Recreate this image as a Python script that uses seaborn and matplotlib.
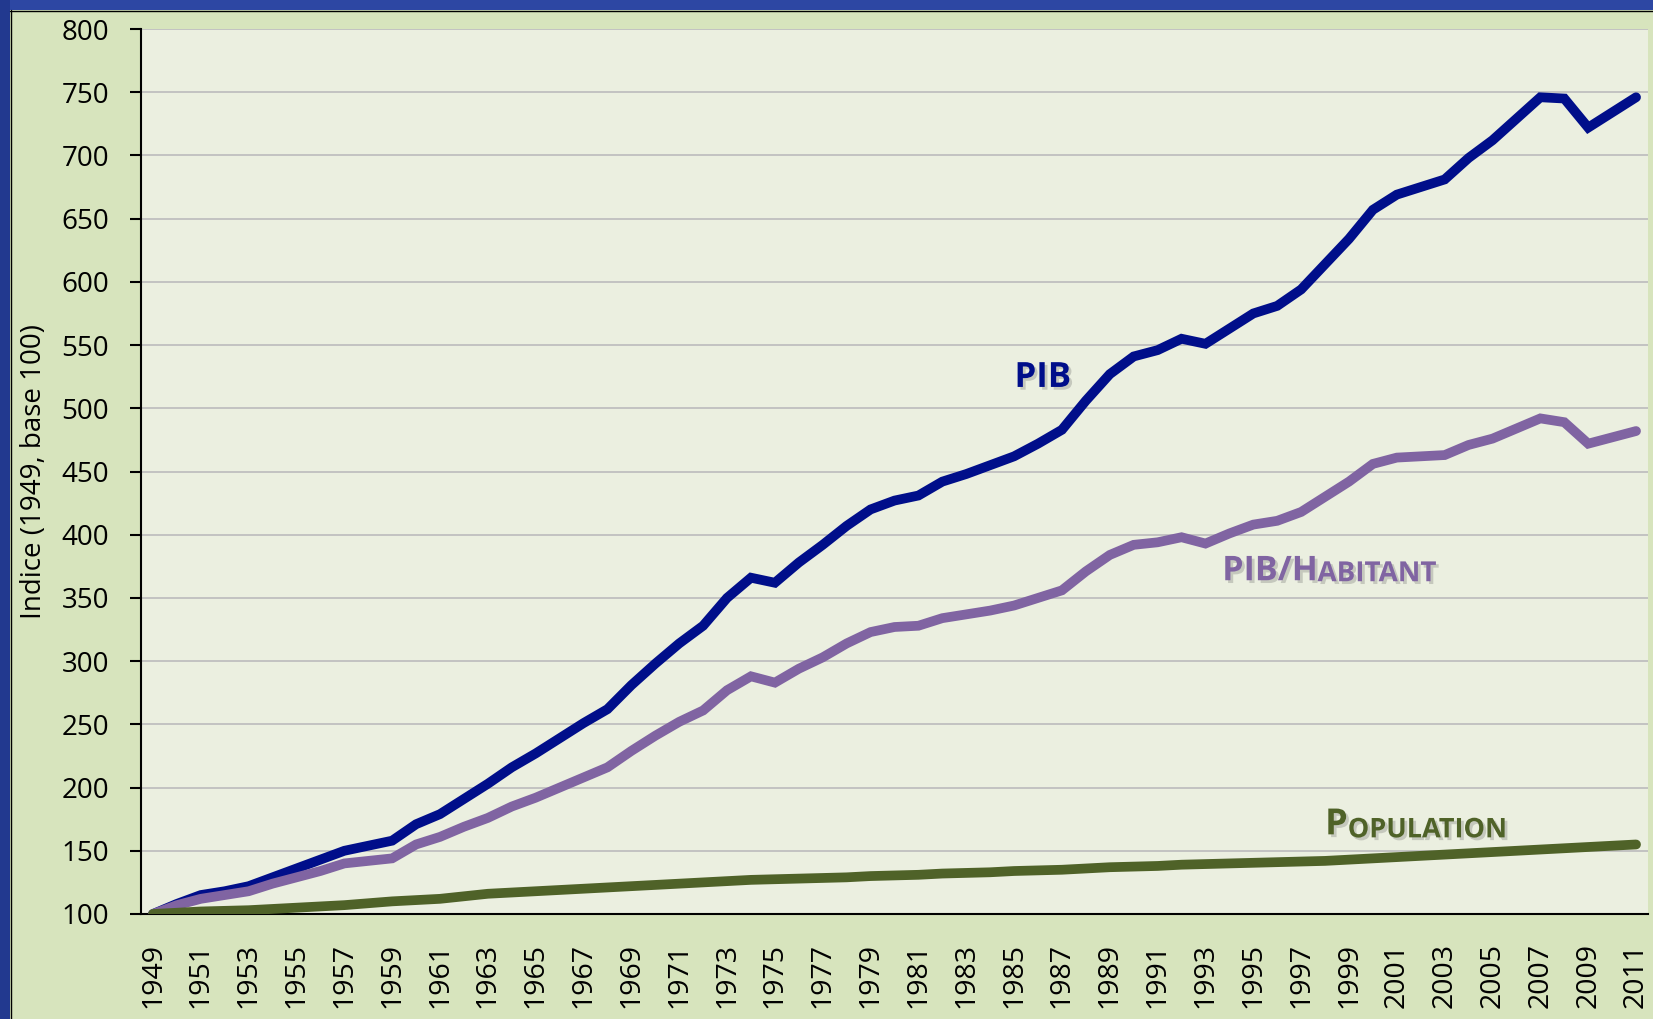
import numpy as np
import pandas as pd
import matplotlib
matplotlib.use("Agg")
import matplotlib.pyplot as plt
import matplotlib.patheffects as pe
from matplotlib.patches import Rectangle
import seaborn as sns

sns.set_style("white")
plt.rcParams['font.family'] = ['Open Sans', 'DejaVu Sans']

years = list(range(1949, 2012))

pib = [100, 108, 115, 118, 122, 129, 136, 143, 150, 154,
       158, 171, 179, 191, 203, 216, 227, 239, 251, 262,
       281, 298, 314, 328, 350, 366, 362, 378, 392, 407,
       420, 427, 431, 442, 448, 455, 462, 472, 483, 506,
       527, 541, 546, 555, 551, 563, 575, 581, 594, 614,
       634, 657, 669, 675, 681, 698, 712, 729, 746, 745,
       722, 734, 746]

pib_hab = [100, 107, 112, 115, 118, 124, 129, 134, 140, 142,
           144, 155, 161, 169, 176, 185, 192, 200, 208, 216,
           229, 241, 252, 261, 277, 288, 283, 294, 303, 314,
           323, 327, 328, 334, 337, 340, 344, 350, 356, 371,
           384, 392, 394, 398, 393, 401, 408, 411, 418, 430,
           442, 456, 461, 462, 463, 471, 476, 484, 492, 489,
           472, 477, 482]

population = [100, 101, 102, 102.5, 103, 104, 105, 106, 107, 108.5,
              110, 111, 112, 114, 116, 117, 118, 119, 120, 121,
              122, 123, 124, 125, 126, 127, 127.5, 128, 128.5, 129,
              130, 130.5, 131, 132, 132.5, 133, 134, 134.5, 135, 136,
              137, 137.5, 138, 139, 139.5, 140, 140.5, 141, 141.5, 142,
              143, 144, 145, 146, 147, 148, 149, 150, 151, 152,
              153, 154, 155]

series_names = ["PIB", "PIB/Habitant", "Population"]
colors = ["#000E8A", "#8064A2", "#4F6228"]

df = pd.DataFrame({"idx": np.arange(len(years)), "PIB": pib,
                   "PIB/Habitant": pib_hab, "Population": population})

fig = plt.figure(figsize=(16.53, 10.19), dpi=100)
fig.patch.set_facecolor("#D7E4BD")

# blue frame on top and left
fig.patches.append(Rectangle((0, 1 - 10 / 1019), 1, 10 / 1019, transform=fig.transFigure,
                             facecolor="#2D47A3", edgecolor="none", zorder=0))
fig.patches.append(Rectangle((0, 0), 10 / 1653, 1, transform=fig.transFigure,
                             facecolor="#22398F", edgecolor="none", zorder=0))
fig.add_artist(plt.Line2D([10 / 1653, 1], [1 - 10.5 / 1019] * 2, transform=fig.transFigure,
                          color="black", lw=1))
fig.add_artist(plt.Line2D([10.5 / 1653] * 2, [0, 1 - 10 / 1019], transform=fig.transFigure,
                          color="black", lw=1))

ax = fig.add_axes([141 / 1653, 1 - 914 / 1019, (1648 - 141) / 1653, (914 - 29) / 1019])
ax.set_facecolor("#EBEFE0")

for name, col in zip(series_names, colors):
    sns.lineplot(data=df, x="idx", y=name, ax=ax, color=col, lw=7,
                 solid_capstyle="round", solid_joinstyle="miter", zorder=3)

ax.set_xlim(-0.5, len(years) - 0.5)
ax.set_ylim(100, 800)
ax.set_yticks(np.arange(100, 801, 50))
ax.yaxis.grid(True, color="#BFBFBF", lw=1.3)
ax.set_axisbelow(True)

ax.set_xticks(np.arange(0, len(years), 2))
ax.set_xticklabels([str(y) for y in years[::2]], rotation=90)
ax.set_xticks(np.arange(-0.5, len(years), 1), minor=True)
ax.tick_params(axis="x", which="major", length=0, pad=21, labelsize=20.5, labelcolor="black")
ax.tick_params(axis="x", which="minor", length=7, width=1.5, color="black", direction="out")
ax.tick_params(axis="y", length=8, width=1.5, color="black", pad=15, labelsize=20,
               labelcolor="black", left=True)

for s in ["top", "right"]:
    ax.spines[s].set_visible(False)
for s in ["left", "bottom"]:
    ax.spines[s].set_color("black")
    ax.spines[s].set_linewidth(1.5)

ax.set_xlabel("")
ax.set_ylabel("Indice (1949, base 100)", fontsize=20, color="black")
ax.yaxis.set_label_coords(-0.062, 0.5)

shadow = [pe.SimplePatchShadow(offset=(2, -2), alpha=0.25, shadow_rgbFace="#555555"), pe.Normal()]

ax.text(37.2, 524, "PIB", color=colors[0], fontsize=25, fontweight="bold",
        ha="center", va="center", path_effects=shadow)

t1 = ax.text(44.7, 364, "PIB/H", color=colors[1], fontsize=24.5, fontweight="bold",
             ha="left", va="baseline", path_effects=shadow)
ax.annotate("ABITANT", xy=(1, 0), xycoords=t1, color=colors[1], fontsize=20,
            fontweight="bold", ha="left", va="bottom", path_effects=shadow)

t2 = ax.text(49.0, 163, "P", color=colors[2], fontsize=26, fontweight="bold",
             ha="left", va="baseline", path_effects=shadow)
ax.annotate("OPULATION", xy=(1, 0), xycoords=t2, color=colors[2], fontsize=19.5,
            fontweight="bold", ha="left", va="bottom", path_effects=shadow)

fig.savefig("out.png", dpi=100, facecolor=fig.get_facecolor())
